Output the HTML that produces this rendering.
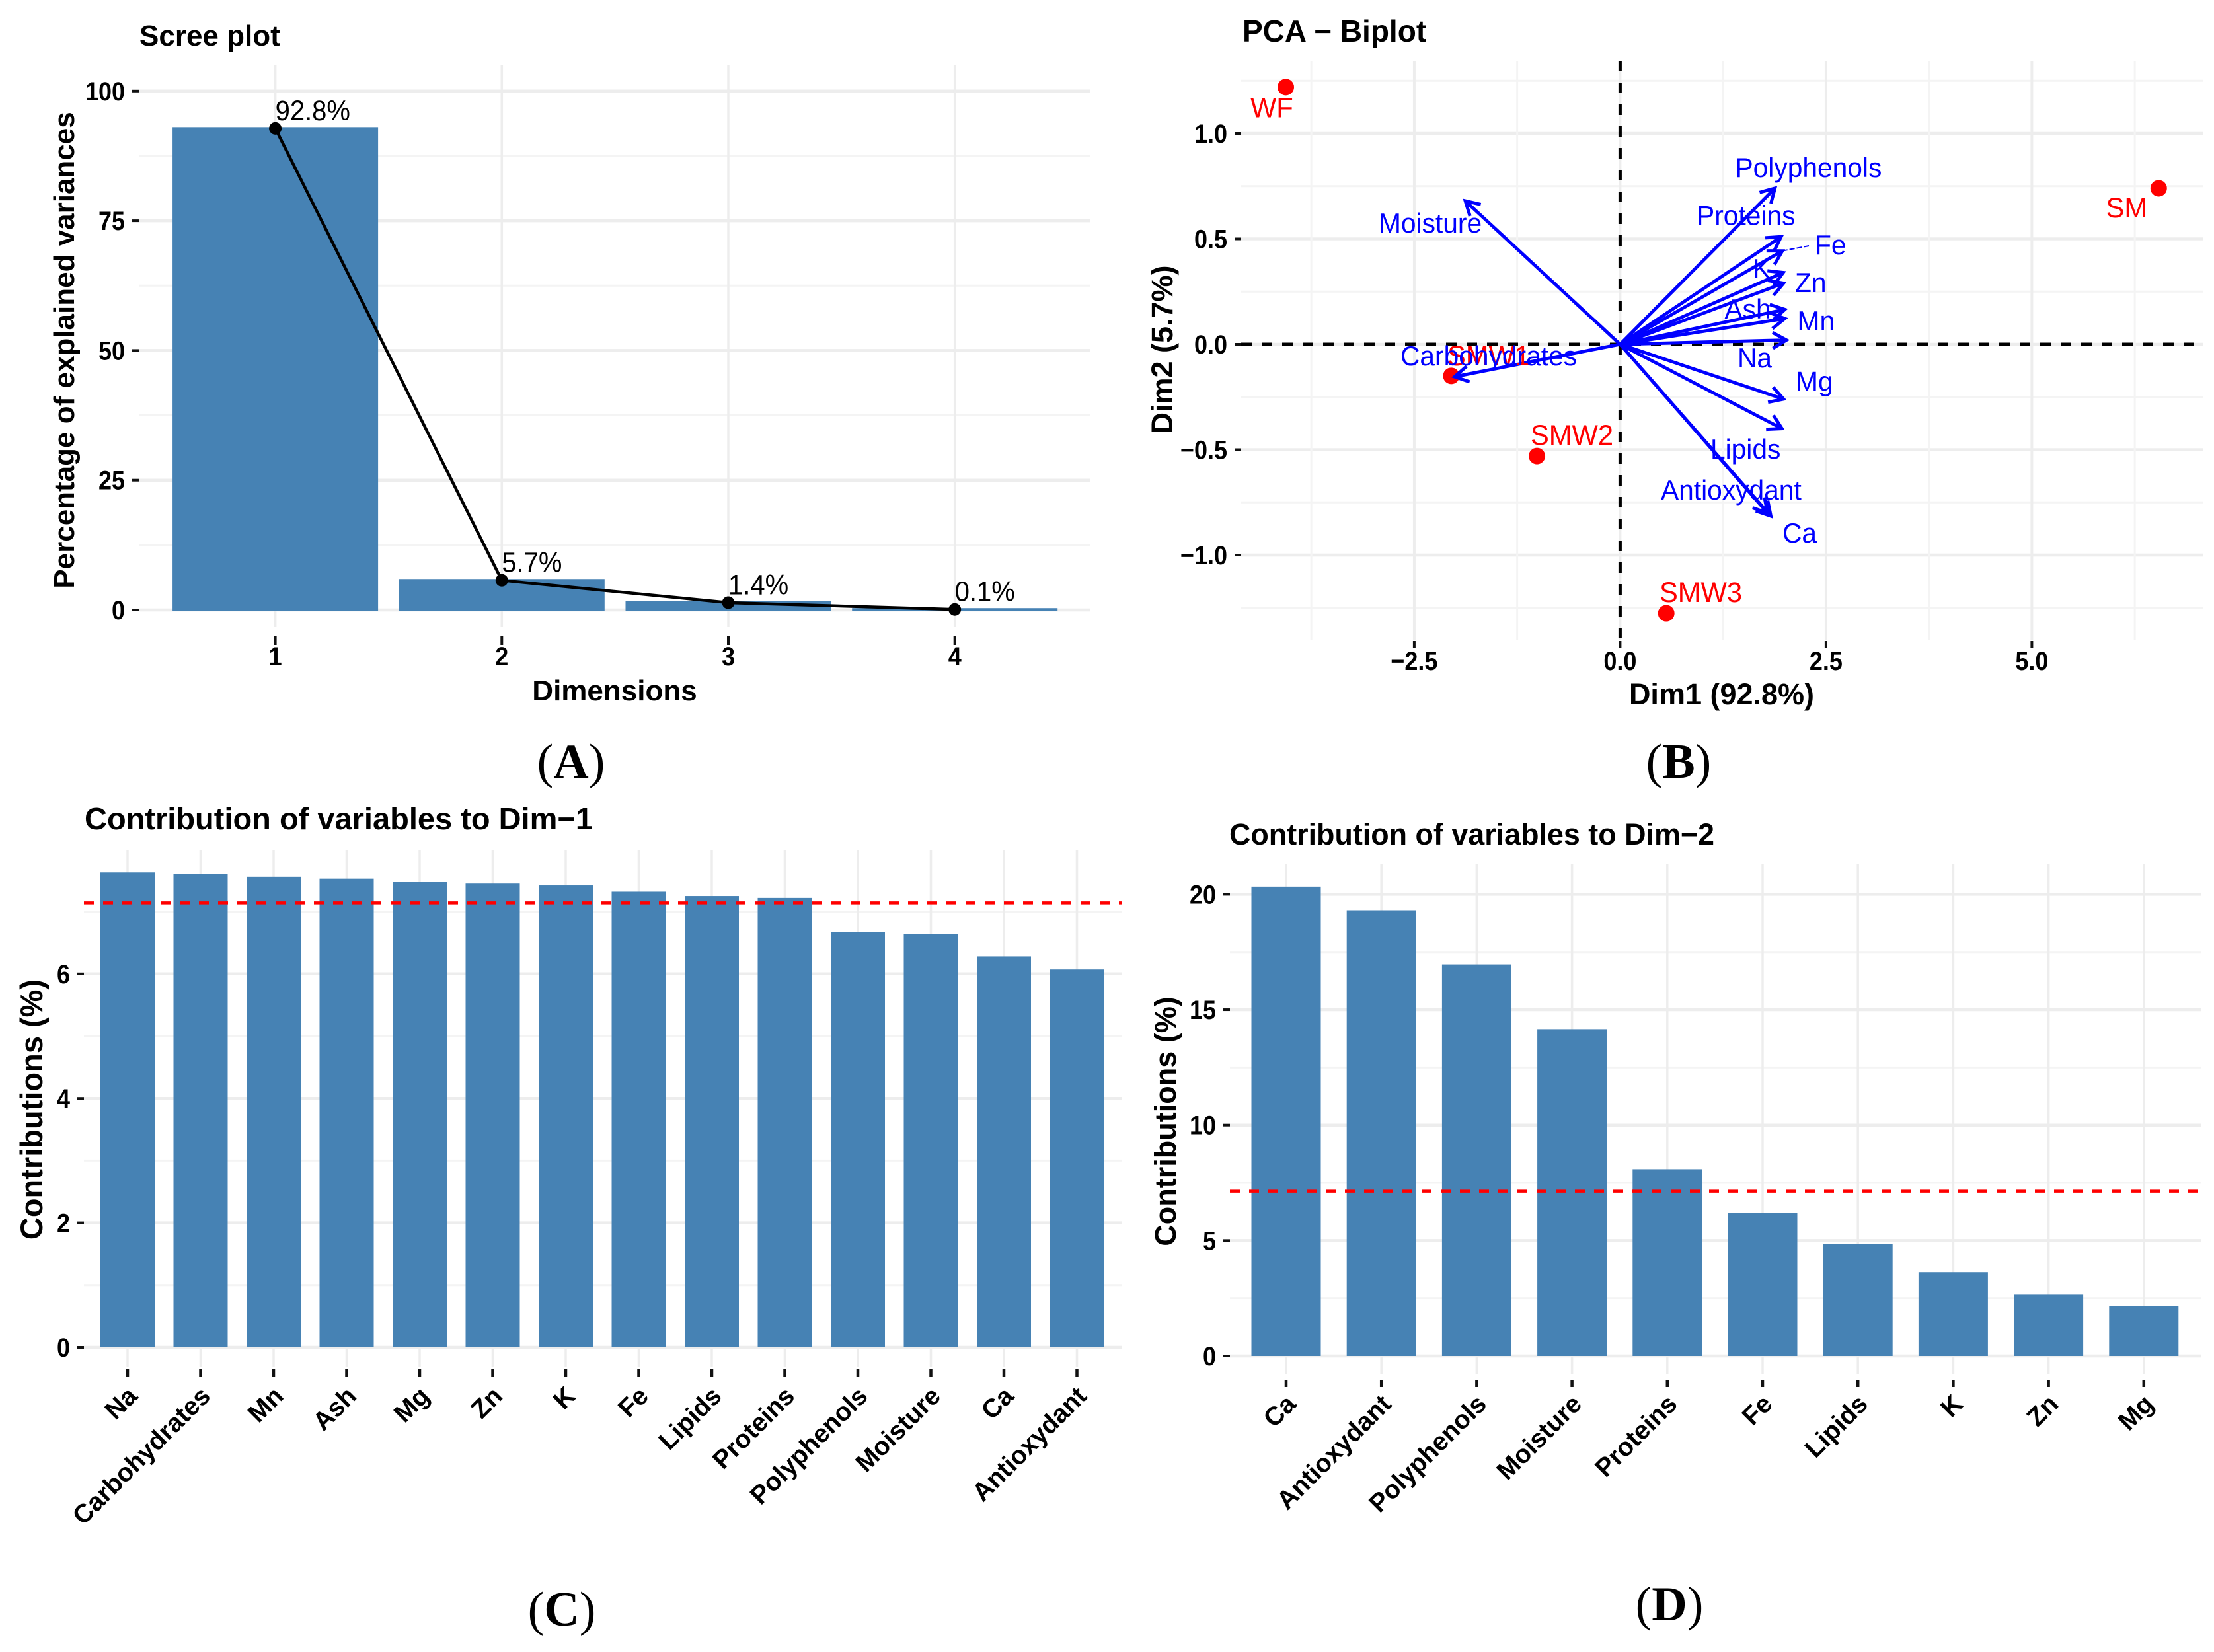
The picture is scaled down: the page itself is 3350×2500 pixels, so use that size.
<!DOCTYPE html>
<html lang="en">
<head>
<meta charset="utf-8">
<title>PCA scree plot, biplot and variable contributions</title>
<style>
html,body{margin:0;padding:0;background:#fff;width:3350px;height:2500px;overflow:hidden}
svg{display:block}
text{font-family:"Liberation Sans",sans-serif;fill:#000}
.t{font-weight:700;font-size:44px}
.l{font-family:"Liberation Serif",serif;font-size:74px;text-anchor:middle}
.l tspan.b{font-weight:700}
</style>
</head>
<body>
<svg id="fig" xmlns="http://www.w3.org/2000/svg" width="3350" height="2500" viewBox="0 0 3350 2500">
<rect x="0" y="0" width="3350" height="2500" fill="#fff"/>
<g id="pa"></g>
<g id="pb"></g>
<g id="pc"></g>
<g id="pd"></g>

<text class="t" x="211" y="69">Scree plot</text>
<text class="t" x="930" y="1060" text-anchor="middle">Dimensions</text>
<text class="t" transform="translate(112,530) rotate(-90)" text-anchor="middle">Percentage of explained variances</text>
<text class="l" x="864" y="1177">(<tspan class="b">A</tspan>)</text>

<text class="t" x="1880" y="63" style="font-size:46px">PCA − Biplot</text>
<text class="t" x="2605" y="1066" text-anchor="middle" style="font-size:45px">Dim1 (92.8%)</text>
<text class="t" transform="translate(1774,529) rotate(-90)" text-anchor="middle" style="font-size:45px">Dim2 (5.7%)</text>
<text class="l" x="2540" y="1177">(<tspan class="b">B</tspan>)</text>

<text class="t" x="128" y="1255" textLength="769" lengthAdjust="spacingAndGlyphs" style="font-size:46px">Contribution of variables to Dim−1</text>
<text class="t" transform="translate(64,1679) rotate(-90)" text-anchor="middle" style="font-size:47px">Contributions (%)</text>
<text class="l" x="850" y="2460">(<tspan class="b">C</tspan>)</text>

<text class="t" x="1860" y="1278" textLength="734" lengthAdjust="spacingAndGlyphs" style="font-size:45px">Contribution of variables to Dim−2</text>
<text class="t" transform="translate(1779,1697) rotate(-90)" text-anchor="middle" style="font-size:45px">Contributions (%)</text>
<text class="l" x="2526" y="2452">(<tspan class="b">D</tspan>)</text>
</svg>

<script>
// ---- Scree plot data ----
const screeDimensions = ['1', '2', '3', '4'];
const screeValues = [92.8, 5.7, 1.4, 0.1];
const screeLabels = ['92.8%', '5.7%', '1.4%', '0.1%'];
const screeMajorTicks = [0, 25, 50, 75, 100];
const screeMinorTicks = [12.5, 37.5, 62.5, 87.5];

// ---- Biplot data ----
const biplotXTicks = [-2.5, 0, 2.5, 5];
const biplotXTickLabels = ['−2.5', '0.0', '2.5', '5.0'];
const biplotXMinor = [-3.75, -1.25, 1.25, 3.75, 6.25];
const biplotYTicks = [-1, -0.5, 0, 0.5, 1];
const biplotYTickLabels = ['−1.0', '−0.5', '0.0', '0.5', '1.0'];
const biplotYMinor = [-1.25, -0.75, -0.25, 0.25, 0.75, 1.25];
const indNames = ['WF', 'SM', 'SMW1', 'SMW2', 'SMW3'];
const indDim1 = [-4.06, 6.54, -2.05, -1.01, 0.56];
const indDim2 = [1.22, 0.74, -0.15, -0.53, -1.276];
const indLabelDim1 = [-4.49, 5.90, -2.098, -1.087, 0.478];
const indLabelDim2 = [1.077, 0.602, -0.10, -0.476, -1.223];
const varNames = ['Polyphenols', 'Moisture', 'Proteins', 'Fe', 'K', 'Zn', 'Ash', 'Mn', 'Na', 'Mg', 'Lipids', 'Antioxydant', 'Ca', 'Carbohydrates'];
const varDim1 = [1.88, -1.88, 1.955, 1.97, 1.98, 1.985, 2.0, 2.0, 2.02, 1.985, 1.965, 1.79, 1.83, -2.01];
const varDim2 = [0.74, 0.68, 0.51, 0.443, 0.34, 0.29, 0.165, 0.122, 0.02, -0.26, -0.40, -0.80, -0.815, -0.154];
const varLabelDim1 = [1.397, -2.933, 0.928, 2.364, 1.610, 2.124, 1.269, 2.152, 1.425, 2.132, 1.096, 0.494, 1.971, -2.668];
const varLabelDim2 = [0.793, 0.530, 0.566, 0.426, 0.313, 0.248, 0.122, 0.066, -0.110, -0.221, -0.542, -0.737, -0.940, -0.100];

// ---- Dim-1 contributions ----
const dim1Categories = ['Na', 'Carbohydrates', 'Mn', 'Ash', 'Mg', 'Zn', 'K', 'Fe', 'Lipids', 'Proteins', 'Polyphenols', 'Moisture', 'Ca', 'Antioxydant'];
const dim1Values = [7.63, 7.61, 7.56, 7.53, 7.48, 7.45, 7.42, 7.32, 7.25, 7.22, 6.67, 6.64, 6.28, 6.07];
const dim1MajorTicks = [0, 2, 4, 6];
const dim1MinorTicks = [1, 3, 5, 7];
const dim1Reference = 7.14;

// ---- Dim-2 contributions ----
const dim2Categories = ['Ca', 'Antioxydant', 'Polyphenols', 'Moisture', 'Proteins', 'Fe', 'Lipids', 'K', 'Zn', 'Mg'];
const dim2Values = [20.33, 19.31, 16.96, 14.16, 8.09, 6.19, 4.86, 3.63, 2.68, 2.16];
const dim2MajorTicks = [0, 5, 10, 15, 20];
const dim2MinorTicks = [2.5, 7.5, 12.5, 17.5];
const dim2Reference = 7.14;

const NS = 'http://www.w3.org/2000/svg';
const BAR = '#4682b4';
const GRID_MAJOR = '#ededed';
const GRID_MINOR = '#f4f4f4';

function mk(parent, tag, attrs, content) {
  const el = document.createElementNS(NS, tag);
  for (const k in attrs) el.setAttribute(k, attrs[k]);
  if (content !== undefined) el.textContent = content;
  parent.appendChild(el);
  return el;
}
function hline(parent, x1, x2, y, stroke, w, extra) {
  return mk(parent, 'line', Object.assign({x1: x1, x2: x2, y1: y, y2: y, stroke: stroke, 'stroke-width': w}, extra || {}));
}
function vline(parent, x, y1, y2, stroke, w, extra) {
  return mk(parent, 'line', Object.assign({x1: x, x2: x, y1: y1, y2: y2, stroke: stroke, 'stroke-width': w}, extra || {}));
}
function tickText(parent, x, y, s, anchor) {
  return mk(parent, 'text', {
    transform: 'translate(' + x + ',' + y + ') scale(0.9,1)',
    'text-anchor': anchor,
    'font-size': 40,
    'font-weight': 700
  }, s);
}

// Shared y-axis: grid + ticks + tick labels
function yAxis(g, y, left, right, majors, minors, labels, prefix) {
  minors.forEach(function (v) {
    const el = hline(g, left, right, y(v), GRID_MINOR, 3);
    
    
  });
  majors.forEach(function (v, i) {
    const el = hline(g, left, right, y(v), GRID_MAJOR, 4.5);
    
    
    const tick = hline(g, left - 10, left, y(v), '#111', 4);
    
    
    const label = tickText(g, left - 21, y(v) + 14, labels ? labels[i] : String(v), 'end');
    
    
  });
}

// ---------- Panel A: scree ----------
(function () {
  const g = document.getElementById('pa');
  const x = function (i) { return 416.6 + i * 342.7; };
  const y = function (v) { return 923 - v * 7.852; };
  const left = 210, right = 1650, top = 98, bottom = 949;
  yAxis(g, y, left, right, screeMajorTicks, screeMinorTicks, null, 'scree');
  screeDimensions.forEach(function (d, i) {
    const grid = vline(g, x(i), top, bottom, GRID_MAJOR, 3.5);
    
    
    const tick = vline(g, x(i), 963, 976, '#111', 4);
    
    
    const label = tickText(g, x(i), 1007, d, 'middle');
    
    
  });
  screeValues.forEach(function (v, i) {
    const bar = mk(g, 'rect', {x: x(i) - 155.5, y: y(v) - 2, width: 311, height: y(0) - y(v) + 4, fill: BAR});
    
    
  });
  const pts = screeValues.map(function (v, i) { return x(i) + ',' + y(v); }).join(' ');
  const line = mk(g, 'polyline', {points: pts, fill: 'none', stroke: '#000', 'stroke-width': 4.5});
  
  
  screeValues.forEach(function (v, i) {
    const pt = mk(g, 'circle', {cx: x(i), cy: y(v), r: 9.5, fill: '#000'});
    
    
    const lab = mk(g, 'text', {transform: 'translate(' + x(i) + ',' + (y(v) - 12.5) + ') scale(0.93,1)', 'font-size': 43}, screeLabels[i]);
    
    
  });
})();

// ---------- Panel B: biplot ----------
(function () {
  const g = document.getElementById('pb');
  const x = function (v) { return 2451.4 + v * 124.6; };
  const y = function (v) { return 521 - v * 319; };
  const left = 1878, right = 3334, top = 92, bottom = 968;
  yAxis(g, y, left, right, biplotYTicks, biplotYMinor, biplotYTickLabels, 'biplot');
  biplotXMinor.forEach(function (v) {
    const el = vline(g, x(v), top, bottom, GRID_MINOR, 3);
    
    
  });
  biplotXTicks.forEach(function (v, i) {
    const grid = vline(g, x(v), top, bottom, GRID_MAJOR, 4);
    
    
    const tick = vline(g, x(v), 970, 980, '#111', 4);
    
    
    const label = tickText(g, x(v), 1014, biplotXTickLabels[i], 'middle');
    
    
  });
  const h0 = hline(g, left, right, y(0), '#000', 5, {'stroke-dasharray': '16 15'});
  
  
  const v0 = vline(g, x(0), top, bottom, '#000', 5, {'stroke-dasharray': '16 17'});
  
  

  indNames.forEach(function (n, i) {
    const pt = mk(g, 'circle', {cx: x(indDim1[i]), cy: y(indDim2[i]), r: 12.5, fill: '#f00'});
    
    
  });
  const leader = mk(g, 'line', {x1: x(varDim1[3]), y1: y(varDim2[3]), x2: x(varLabelDim1[3]) - 7, y2: y(varDim2[3]) - 8, stroke: '#0000ff', 'stroke-width': 2, 'stroke-dasharray': '8 3'});
  
  

  varNames.forEach(function (n, i) {
    const x1 = x(0), y1 = y(0), x2 = x(varDim1[i]), y2 = y(varDim2[i]);
    const a = Math.atan2(y2 - y1, x2 - x1), L = 24, s = Math.PI / 6;
    const d = 'M' + x1 + ' ' + y1 + 'L' + x2 + ' ' + y2 +
      'M' + (x2 - L * Math.cos(a - s)) + ' ' + (y2 - L * Math.sin(a - s)) +
      'L' + x2 + ' ' + y2 +
      'L' + (x2 - L * Math.cos(a + s)) + ' ' + (y2 - L * Math.sin(a + s));
    const arrow = mk(g, 'path', {d: d, fill: 'none', stroke: '#0000ff', 'stroke-width': 5});
    
    
  });
  indNames.forEach(function (n, i) {
    const t = mk(g, 'text', {transform: 'translate(' + x(indLabelDim1[i]) + ',' + y(indLabelDim2[i]) + ') scale(0.97,1)', 'font-size': 43, style: 'fill:#f00'}, n);
    
    
  });
  varNames.forEach(function (n, i) {
    const t = mk(g, 'text', {transform: 'translate(' + x(varLabelDim1[i]) + ',' + y(varLabelDim2[i]) + ') scale(0.97,1)', 'font-size': 42, style: 'fill:#0000ff'}, n);
    
    
  });
})();

// ---------- Panels C & D: contributions ----------
function contribution(g, prefix, cats, vals, majors, minors, ref, cfg) {
  const x = function (i) { return cfg.x0 + i * cfg.dx; };
  const y = function (v) { return cfg.y0 - v * cfg.sy; };
  yAxis(g, y, cfg.left, cfg.right, majors, minors, null, prefix);
  cats.forEach(function (c, i) {
    const grid = vline(g, x(i), cfg.top, cfg.bottom, GRID_MAJOR, 3.5);
    
    
    const tick = vline(g, x(i), cfg.tick0, cfg.tick1, '#111', 4.5);
    
    
    const label = mk(g, 'text', {
      transform: 'translate(' + (x(i) + 17) + ',' + cfg.labelY + ') rotate(-45)',
      'text-anchor': 'end', 'font-size': 39, 'font-weight': 700
    }, c);
    
    
  });
  vals.forEach(function (v, i) {
    const bar = mk(g, 'rect', {x: x(i) - cfg.bw / 2, y: y(v), width: cfg.bw, height: y(0) - y(v), fill: BAR});
    
    
  });
  const refLine = hline(g, cfg.left, cfg.right, y(ref), '#ff0000', 4.5, {'stroke-dasharray': '15 14'});
  
  
}
contribution(document.getElementById('pc'), 'dim1', dim1Categories, dim1Values, dim1MajorTicks, dim1MinorTicks, dim1Reference,
  {x0: 193, dx: 110.5, y0: 2039, sy: 94.2, bw: 82, left: 127, right: 1697, top: 1287, bottom: 2068, tick0: 2072, tick1: 2084, labelY: 2115});
contribution(document.getElementById('pd'), 'dim2', dim2Categories, dim2Values, dim2MajorTicks, dim2MinorTicks, dim2Reference,
  {x0: 1946, dx: 144.2, y0: 2052, sy: 34.93, bw: 105, left: 1861, right: 3331, top: 1308, bottom: 2080, tick0: 2088, tick1: 2099, labelY: 2127});
</script>
</body>
</html>
